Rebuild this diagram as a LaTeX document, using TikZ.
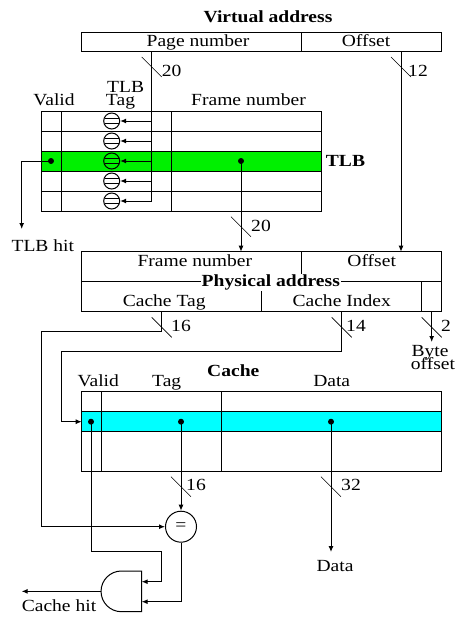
\documentclass[tikz,border=0pt]{standalone}
\usepackage{fontspec}
\setmainfont{Liberation Serif}[FakeStretch=1.15]
\usetikzlibrary{arrows.meta}
\definecolor{tlbgreen}{RGB}{0,240,0}
\definecolor{cachecyan}{RGB}{0,255,255}
\begin{document}
\begin{tikzpicture}[x=1pt,y=-1pt,line width=1pt,
  lbl/.style={anchor=base,inner sep=0pt,font=\fontsize{17}{19}\selectfont},
  blbl/.style={anchor=base,inner sep=0pt,font=\fontsize{17}{19}\selectfont\bfseries},
  arr/.style={-{Latex[length=6pt,width=5pt]}},
  tickmark/.style={line width=0.6pt},
  dotnode/.style={circle,fill=black,inner sep=0pt,minimum size=6pt},
  smallcmp/.style={circle,draw,inner sep=0pt,minimum size=16pt},
  bigcmp/.style={circle,draw,inner sep=0pt,minimum size=31pt,font=\fontsize{17}{19}\selectfont},
]
\useasboundingbox (0,0) rectangle (463,624);

% ---------- Virtual address ----------
\node[blbl] (vatitle) at (268,22) {Virtual address};
\draw (81,32.3) rectangle (441.7,51);
\draw (301.7,32.3) -- (301.7,51);
\node[lbl] (pagenum) at (198,46) {Page number};
\node[lbl] (vaoff) at (366,46) {Offset};
\coordinate (pntop) at (151.7,51);
\coordinate (offtop) at (401,51);

% ---------- TLB ----------
\fill[tlbgreen] (41,151.3) rectangle (321.7,171.3);
\draw (41,111.3) rectangle (321.7,211);
\foreach \yy in {131.3,151.3,171.3,191.3} \draw (41,\yy) -- (321.7,\yy);
\draw (61.7,111.3) -- (61.7,211);
\draw (171.7,111.3) -- (171.7,211);
\node[lbl] (tlbtag1) at (125.7,92.8) {TLB};
\node[lbl] (tlbtag2) at (120.5,105.8) {Tag};
\node[lbl] (tlbvalid) at (54,105.5) {Valid};
\node[lbl] (tlbframe) at (248.5,105.5) {Frame number};
\node[blbl] (tlbname) at (345.5,166.7) {TLB};

\foreach \i/\yy in {1/121,2/141,3/161,4/181,5/201}{
  \node[smallcmp] (c\i) at (111.7,\yy) {};
  \draw ([shift={(-7pt,2.4pt)}]c\i.center) -- ([shift={(7pt,2.4pt)}]c\i.center);
  \draw ([shift={(-7pt,-2.4pt)}]c\i.center) -- ([shift={(7pt,-2.4pt)}]c\i.center);
  \coordinate (pn\i) at (151.7,\yy);
  \draw[arr] (pn\i) -- (c\i.east);
}
\draw (pntop) -- (pn5);
\draw[tickmark] (141.7,57) -- (161.7,77);
\node[lbl] (n20a) at (171.7,76) {20};

\draw[tickmark] (391,57) -- (411,77);
\node[lbl] (n12) at (418,76) {12};

\node[dotnode] (tlbvdot) at (51,161) {};
\node[dotnode] (tlbfdot) at (241,161) {};
\coordinate (tlbhitbend) at (21.7,161);
\coordinate (tlbhitend) at (21.7,229);
\draw[arr] (tlbvdot.center) -- (tlbhitbend) -- (tlbhitend);
\node[lbl] (tlbhit) at (42.8,251.7) {TLB hit};

% ---------- Physical address ----------
\draw (81.7,251.7) rectangle (441.7,311);
\draw (81.7,281.7) -- (441.7,281.7);
\draw (301.7,251.7) -- (301.7,281.7);
\draw (261.7,281.7) -- (261.7,311);
\draw (421.7,281.7) -- (421.7,311);
\coordinate (paframe) at (241,251.7);
\coordinate (paoff) at (401,251.7);
\draw[arr] (tlbfdot.center) -- (paframe);
\draw[arr] (offtop) -- (paoff);
\draw[tickmark] (231,216.7) -- (251,236.7);
\node[lbl] (n20b) at (261,231.7) {20};

\node[lbl] (paframetxt) at (194.8,266) {Frame number};
\node[lbl] (paofftxt) at (371.7,266) {Offset};
\node[blbl,fill=white,inner sep=1pt] (patitle) at (270.8,286.7) {Physical address};
\node[lbl] (ctagtxt) at (164.2,306) {Cache Tag};
\node[lbl] (cidxtxt) at (341.7,306) {Cache Index};

% ---------- Cache ----------
\fill[cachecyan] (81.7,411.7) rectangle (441.7,431.3);
\draw (81.7,391.7) rectangle (441.7,471);
\draw (81.7,411.7) -- (441.7,411.7);
\draw (81.7,431.3) -- (441.7,431.3);
\draw (101.7,391.7) -- (101.7,471);
\draw (221.7,391.7) -- (221.7,471);
\node[blbl] (cachetitle) at (233.3,376.7) {Cache};
\node[lbl] (cvalid) at (98.3,386) {Valid};
\node[lbl] (ctag) at (166.7,386) {Tag};
\node[lbl] (cdata) at (331.7,386) {Data};

\node[dotnode] (cvdot) at (91,421.7) {};
\node[dotnode] (ctdot) at (181,421.7) {};
\node[dotnode] (cddot) at (331,421.7) {};

% cache index -> row select
\coordinate (cidxbot) at (341.7,311);
\coordinate (cidxb1) at (341.7,351.7);
\coordinate (cidxb2) at (61.7,351.7);
\coordinate (cidxb3) at (61.7,421.7);
\coordinate (rowsel) at (81.7,421.7);
\draw[arr] (cidxbot) -- (cidxb1) -- (cidxb2) -- (cidxb3) -- (rowsel);
\draw[tickmark] (331.7,317.3) -- (351.7,337.3);
\node[lbl] (n14) at (356,331.7) {14};

% byte offset
\coordinate (bobot) at (431.7,311);
\coordinate (boend) at (431.7,342);
\draw[arr] (bobot) -- (boend);
\draw[tickmark] (421.7,317.3) -- (441.7,337.3);
\node[lbl] (n2) at (446,331.7) {2};
\node[lbl] (byte) at (430,356.2) {Byte};
\node[lbl] (offs) at (433,369.8) {offset};

% comparator
\node[bigcmp] (eq) at (181,526.7) {=};
\coordinate (ctagbot) at (161.7,311);
\coordinate (ctb1) at (161.7,331.7);
\coordinate (ctb2) at (41,331.7);
\coordinate (ctb3) at (41,526.7);
\draw[arr] (ctagbot) -- (ctb1) -- (ctb2) -- (ctb3) -- (eq.west);
\draw[tickmark] (151.7,317.3) -- (171.7,337.3);
\node[lbl] (n16a) at (181,331.7) {16};

\draw[arr] (ctdot.center) -- (eq.north);
\draw[tickmark] (171,476.7) -- (191,496.7);
\node[lbl] (n16b) at (196,490) {16};

% data out
\coordinate (dataend) at (331,552);
\draw[arr] (cddot.center) -- (dataend);
\draw[tickmark] (321,476.7) -- (341,496.7);
\node[lbl] (n32) at (351,490) {32};
\node[lbl] (dataout) at (335,571.7) {Data};

% AND gate
\draw (141.7,571) -- (121.4,571) arc[start angle=90,end angle=270,radius=20.35pt] -- (141.7,611.7) -- cycle;
\coordinate (andin1) at (141.7,581.7);
\coordinate (andin2) at (141.7,601.7);
\coordinate (andout) at (101,591.35);
\coordinate (hitend) at (21.7,591.35);
\coordinate (vb1) at (91,551);
\coordinate (vb2) at (161.7,551);
\coordinate (vb3) at (161.7,581.7);
\draw[arr] (cvdot.center) -- (vb1) -- (vb2) -- (vb3) -- (andin1);
\coordinate (eqb1) at (181,601.7);
\draw[arr] (eq.south) -- (eqb1) -- (andin2);
\draw[arr] (andout) -- (hitend);
\node[lbl] (cachehit) at (59,611) {Cache hit};
\end{tikzpicture}
\end{document}
